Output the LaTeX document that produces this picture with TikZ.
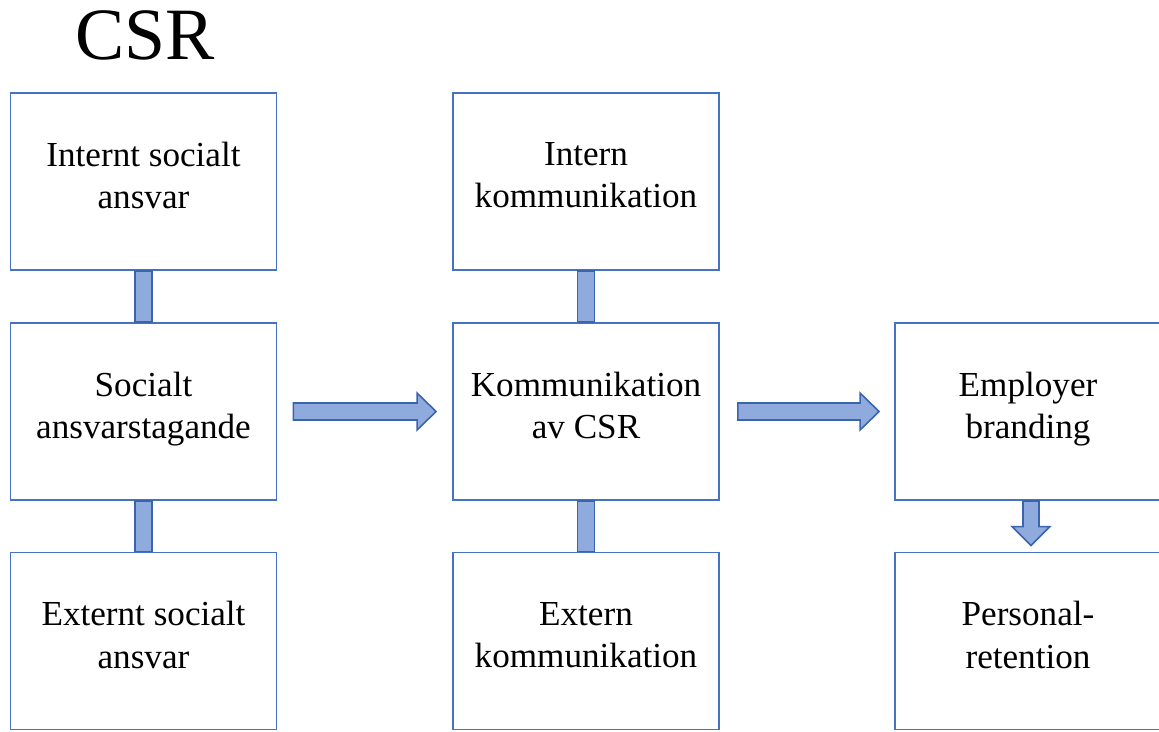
\documentclass[tikz,border=0pt]{standalone}
\usepackage{fontspec}
\setmainfont{Liberation Serif}
\usetikzlibrary{calc,positioning}
\definecolor{boxblue}{HTML}{4472C4}
\definecolor{barfill}{HTML}{8FAADC}
\definecolor{bardraw}{HTML}{3A64AE}

\begin{document}
\begin{tikzpicture}[x=0.02cm, y=-0.02cm,
  csrbox/.style={draw=boxblue, line width=1.1pt, minimum width=5.32cm, minimum height=3.54cm,
    inner sep=0pt, text depth=7pt, align=center, font=\fontsize{20}{24}\selectfont},
  linkbar/.style={draw=bardraw, fill=barfill, line width=0.9pt},
  bigarrow/.style={draw=bardraw, fill=barfill, line width=0.9pt, line join=miter}]
\useasboundingbox (0,0) rectangle (1159,731);
%--- titel ---
\node[font=\fontsize{42}{48}\selectfont] (title) at (145,35) {CSR};
%--- kolumn 1 ---
\node[csrbox] (intsoc) at (143.5,181.5) {Internt socialt\\ansvar};
\node[csrbox] (socans) at (143.5,411.5) {Socialt\\ansvarstagande};
\node[csrbox] (extsoc) at (143.5,641) {Externt socialt\\ansvar};
%--- kolumn 2 ---
\node[csrbox] (intkom) at (586,181.5) {Intern\\kommunikation};
\node[csrbox] (komcsr) at (586,411.5) {Kommunikation\\av CSR};
\node[csrbox] (extkom) at (586,641) {Extern\\kommunikation};
%--- kolumn 3 ---
\node[csrbox] (empbr) at (1028,411.5) {Employer\\branding};
\node[csrbox] (persret) at (1028,641) {Personal-\\retention};
% staplar mellan rutorna
\draw[linkbar] ($(intsoc.south)+(-8.5,0)$) rectangle ($(socans.north)+(8.5,0)$);
\draw[linkbar] ($(socans.south)+(-8.5,0)$) rectangle ($(extsoc.north)+(8.5,0)$);
\draw[linkbar] ($(intkom.south)+(-8.5,0)$) rectangle ($(komcsr.north)+(8.5,0)$);
\draw[linkbar] ($(komcsr.south)+(-8.5,0)$) rectangle ($(extkom.north)+(8.5,0)$);
% pilar
\coordinate (a1s) at ($(socans.east)+(16,0)$);
\coordinate (a1e) at ($(komcsr.west)+(-16,0)$);
\draw[bigarrow] ($(a1s)+(0,-8.5)$) -- ($(a1e)+(-19,-8.5)$) -- ($(a1e)+(-19,-18.5)$) -- (a1e)
  -- ($(a1e)+(-19,18.5)$) -- ($(a1e)+(-19,8.5)$) -- ($(a1s)+(0,8.5)$) -- cycle;
\coordinate (a2s) at ($(komcsr.east)+(18,0)$);
\coordinate (a2e) at ($(empbr.west)+(-15,0)$);
\draw[bigarrow] ($(a2s)+(0,-8.5)$) -- ($(a2e)+(-19,-8.5)$) -- ($(a2e)+(-19,-18.5)$) -- (a2e)
  -- ($(a2e)+(-19,18.5)$) -- ($(a2e)+(-19,8.5)$) -- ($(a2s)+(0,8.5)$) -- cycle;
% nedåtpil
\coordinate (a3s) at ($(empbr.south)+(3,0)$);
\coordinate (a3e) at ($(persret.north)+(3,-6)$);
\draw[bigarrow] ($(a3s)+(-8,0)$) -- ($(a3e)+(-8,-19)$) -- ($(a3e)+(-19,-19)$) -- (a3e)
  -- ($(a3e)+(19,-19)$) -- ($(a3e)+(8,-19)$) -- ($(a3s)+(8,0)$) -- cycle;
\end{tikzpicture}
\end{document}
